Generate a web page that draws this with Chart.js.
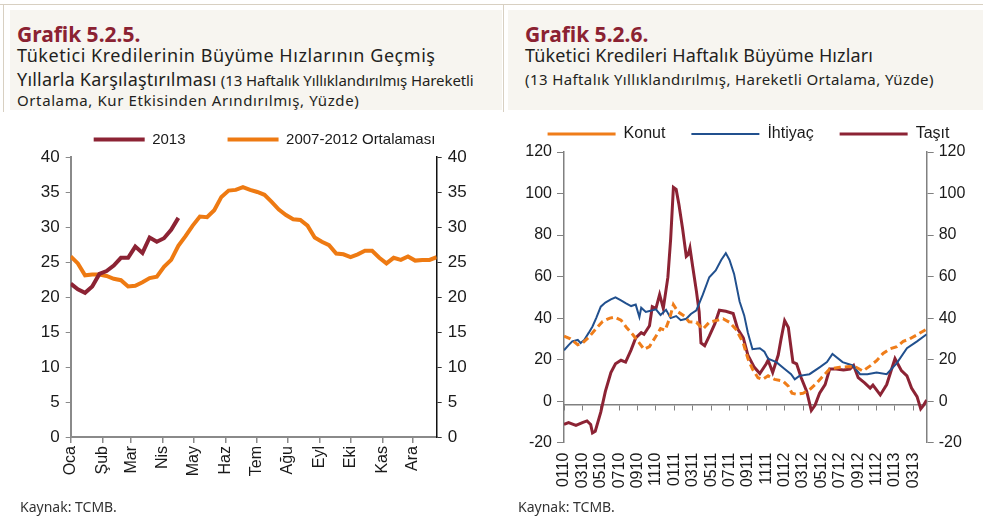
<!DOCTYPE html>
<html lang="tr">
<head>
<meta charset="utf-8">
<script src="https://cdn.jsdelivr.net/npm/chart.js@4.4.1/dist/chart.umd.min.js"></script>
<style>
  body { margin:0; width:983px; height:518px; background:#fff; position:relative; overflow:hidden; font-family:"Noto Sans", sans-serif; color:#231f20; }
  .rule-top { position:absolute; left:0; top:4px; width:983px; height:1px; background:#d8d0c2; }
  .rule-left { position:absolute; left:3px; top:4px; width:1px; height:108px; background:#d8d0c2; }
  .rule-mid { position:absolute; left:503px; top:4px; width:1px; height:108px; background:#d8d0c2; }
  .head { position:absolute; top:10px; height:100px; background:#f7f5f0; }
  .t { position:absolute; white-space:nowrap; line-height:20px; }
  .num { font-weight:700; font-size:21px; color:#8b2232; }
  .big { font-size:18px; }
  .small { font-size:15px; }
  .src { position:absolute; font-size:14px; color:#333; white-space:nowrap; line-height:14px; }
  canvas { position:absolute; }
</style>
</head>
<body>
<div class="rule-top"></div>
<div class="rule-left"></div>
<div class="rule-mid"></div>
<div class="head" style="left:10px;width:492px"></div>
<div class="head" style="left:508px;width:475px"></div>

<div class="t num" style="left:17px;top:24px">Grafik 5.2.5.</div>
<div class="t big" style="left:17px;top:45px;letter-spacing:0.55px">Tüketici Kredilerinin Büyüme Hızlarının Geçmiş</div>
<div class="t" style="left:17px;top:69px"><span class="big" style="letter-spacing:0.2px">Yıllarla Karşılaştırılması</span> <span class="small" style="letter-spacing:-0.1px">(13 Haftalık Yıllıklandırılmış Hareketli</span></div>
<div class="t small" style="left:17px;top:90px;letter-spacing:0.6px">Ortalama, Kur Etkisinden Arındırılmış, Yüzde)</div>

<div class="t num" style="left:525px;top:24px">Grafik 5.2.6.</div>
<div class="t big" style="left:525px;top:45px;letter-spacing:0.13px">Tüketici Kredileri Haftalık Büyüme Hızları</div>
<div class="t small" style="left:525px;top:69px;letter-spacing:0.4px">(13 Haftalık Yıllıklandırılmış, Hareketli Ortalama, Yüzde)</div>

<canvas id="leftChart" width="489" height="420" style="left:20px;top:90px"></canvas>
<canvas id="rightChart" width="481" height="418" style="left:508px;top:100px"></canvas>

<div class="src" style="left:20px;top:500px">Kaynak: TCMB.</div>
<div class="src" style="left:518px;top:500px">Kaynak: TCMB.</div>

<script>
// Grafik 5.2.5 - weekly index 0..51, month ticks at day-of-year / 7
const monthNames = ['Oca','Şub','Mar','Nis','May','Haz','Tem','Ağu','Eyl','Eki','Kas','Ara'];
const monthTickWeeks = [0, 4.43, 8.43, 12.86, 17.14, 21.57, 25.86, 30.29, 34.71, 39, 43.43, 47.71];
const growth2013 = [21.9, 21.1, 20.6, 21.5, 23.3, 23.7, 24.5, 25.6, 25.6, 27.2, 26.3, 28.5, 27.9, 28.4, 29.6, 31.3];
const avg2007to2012 = [25.8, 24.8, 23.1, 23.2, 23.2, 23.0, 22.6, 22.4, 21.5, 21.6, 22.1, 22.7, 22.9, 24.3, 25.3, 27.3,
  28.7, 30.2, 31.5, 31.4, 32.4, 34.3, 35.2, 35.3, 35.7, 35.3, 35.0, 34.6, 33.6, 32.5, 31.7, 31.1,
  31.0, 30.2, 28.5, 27.9, 27.4, 26.2, 26.1, 25.7, 26.1, 26.6, 26.6, 25.6, 24.8, 25.6, 25.3, 25.8,
  25.2, 25.3, 25.3, 25.7];

// Grafik 5.2.6 - x in months since Jan 2010
const periodTicks = [0, 2, 4, 6, 8, 10, 12, 14, 16, 18, 20, 22, 24, 26, 28, 30, 32, 34, 36, 38];
const periodLabels = ['0110','0310','0510','0710','0910','1110','0111','0311','0511','0711','0911','1111',
  '0112','0312','0512','0712','0912','1112','0113','0313'];

const konutX = [0, 0.7, 1.5, 2, 2.7, 3.5, 4.2, 5, 5.5, 6.2, 6.8, 7.5, 8.2, 8.7, 9.3, 10, 10.5, 11, 11.5, 11.9,
  12.4, 13.1, 13.6, 14.4, 15.1, 15.8, 16.5, 17.3, 18, 18.7, 19.5, 20, 20.5, 21.1, 21.6, 22.2, 22.9, 23.8,
  24.4, 24.8, 25.3, 26, 26.7, 27.5, 28.2, 28.9, 30, 31.1, 31.8, 32.5, 33.3, 34, 34.7, 35.5, 36.2, 36.9,
  37.6, 38.4, 39.1, 39.45];
const konutY = [31.3, 30, 27.2, 28, 30.8, 35, 38.4, 40, 40.5, 39, 35.5, 32, 28, 25, 26.3, 31.3, 35, 34.2, 40, 46.5,
  43, 41, 38.2, 38, 34.7, 38, 38.8, 39.7, 38, 34.7, 28, 20.5, 15.5, 11.3, 10.5, 12.2, 10.5, 9.7,
  7.2, 3.8, 3.3, 3.8, 5.5, 8.8, 12.2, 15.5, 16.3, 16.7, 16.3, 14.5, 17, 19.5, 23, 25.3, 26.3, 28.8,
  30, 32, 33.8, 34.7];

const ihtiyacX = [0, 0.5, 0.9, 1.5, 1.8, 2.2, 2.7, 3.1, 3.5, 4, 4.5, 5.1, 5.6, 6.2, 6.7, 7.3, 7.8, 8.2, 8.4, 8.9,
  9.4, 10, 10.5, 11.1, 11.6, 12.2, 12.7, 13.3, 13.8, 14.4, 15.1, 15.8, 16.5, 17.1, 17.6, 18, 18.5, 19.1,
  19.6, 20, 20.5, 21.3, 21.8, 22.2, 23.1, 24, 24.7, 25.1, 25.6, 26.7, 27.8, 28.6, 29.2, 30.3, 31.4,
  32.2, 33, 34, 35.1, 36.2, 37.3, 38.4, 39.45];
const ihtiyacY = [24.5, 27, 28.8, 29.5, 28, 29.5, 33, 36, 40, 45.5, 47.5, 49, 50, 48.5, 47.2, 45.8, 46.5, 40.5, 45, 43,
  43.5, 44.2, 41.5, 44, 40, 41, 39, 39.7, 42, 43.8, 51.3, 59.7, 63, 68, 71.3, 68, 61.3, 48,
  41.3, 33, 25, 25.5, 23.8, 20.5, 18.8, 15.5, 13, 10.5, 12.2, 13, 16.3, 18.8, 22.7, 18.8, 17.2,
  13, 13, 13.8, 13, 18.3, 25.5, 28.8, 32.2];

const tasitX = [0, 0.5, 1.3, 2, 2.5, 2.9, 3.1, 3.4, 4, 4.5, 5.1, 5.6, 6.2, 6.7, 7.3, 7.8, 8.4, 8.7, 9.3, 9.6,
  10, 10.4, 10.8, 11.3, 11.6, 11.9, 12.2, 12.5, 12.9, 13.3, 13.5, 13.7, 14, 14.4, 14.7, 14.9, 15.3,
  15.8, 16.4, 16.9, 17.6, 18.4, 18.9, 19.5, 20, 20.7, 21.3, 22, 22.2, 22.7, 23.3, 23.6, 24, 24.4,
  24.9, 25.3, 25.8, 26.4, 26.9, 27.3, 27.8, 28.4, 28.9, 29.6, 30.4, 31.1, 31.5, 32, 32.7, 33.3,
  33.6, 34.4, 35.1, 36, 36.7, 37.3, 37.8, 38.4, 38.8, 39.1, 39.45];
const tasitY = [-11.2, -10.3, -11.7, -10.3, -9.5, -11.2, -15.3, -14.5, -5.3, 4.7, 13.8, 18, 19.7, 18.8, 24.7, 30.5, 33, 32.2, 36.3, 45.5,
  44.7, 51.3, 44.7, 59.7, 78, 103, 102, 94.7, 83, 69.7, 70.5, 73.8, 64.7, 53, 43, 28, 26.7,
  31.3, 37.2, 43.8, 43.3, 42.2, 34.7, 30.5, 22.2, 16.3, 13.3, 18, 19.7, 13.8, 22.2, 29.7, 38.8, 35.5,
  18.8, 18, 11.3, 4.7, -4.5, -2, 3.8, 8, 15.5, 15.5, 15, 15.5, 17.2, 11.3, 8.8, 6.3,
  7.7, 3, 8, 20.5, 14.7, 12.2, 6.3, 2.2, -3.7, -2, 0.5];

const axisFont = { family: '"Liberation Sans", Arial, sans-serif', size: 17 };
const axisFontSm = { family: '"Liberation Sans", Arial, sans-serif', size: 16 };
const textColor = '#1a1a1a';
const zip = (xs, ys) => ys.map((y, i) => ({ x: xs[i], y: y }));

new Chart(document.getElementById('leftChart'), {
  type: 'line',
  data: {
    datasets: [
      { label: '2013', data: growth2013.map((v, i) => ({ x: i, y: v })), borderColor: '#8c2334', borderWidth: 4,
        pointRadius: 0, pointStyle: 'line', tension: 0 },
      { label: '2007-2012 Ortalaması', data: avg2007to2012.map((v, i) => ({ x: i, y: v })), borderColor: '#ee7a12',
        borderWidth: 4, pointRadius: 0, pointStyle: 'line', tension: 0 }
    ]
  },
  options: {
    responsive: false, animation: false,
    layout: { padding: 0 },
    plugins: {
      tooltip: { enabled: false },
      legend: {
        maxHeight: 73,
        labels: { usePointStyle: true, pointStyle: 'line', pointStyleWidth: 51, padding: 42, color: textColor,
          font: { family: axisFont.family, size: 15 } }
      }
    },
    scales: {
      x: {
        type: 'linear', min: 0, max: 51,
        afterBuildTicks: s => { s.ticks = monthTickWeeks.map(v => ({ value: v })); },
        afterFit: s => { s.height = 73; },
        ticks: { callback: (v, i) => monthNames[i], autoSkip: false, minRotation: 90, maxRotation: 90,
          color: textColor, font: { family: axisFont.family, size: 16 }, padding: 3 },
        grid: { drawOnChartArea: false, tickLength: 6, color: '#8a8a8a', lineWidth: 1.5 },
        border: { color: '#8a8a8a', width: 2 }
      },
      y: {
        min: 0, max: 40,
        afterFit: s => { s.width = 50.7; },
        ticks: { stepSize: 5, color: textColor, font: axisFont, padding: 6 },
        grid: { drawOnChartArea: false, tickLength: 5, color: '#8a8a8a' },
        border: { color: '#8a8a8a', width: 2 }
      },
      y2: {
        position: 'right', min: 0, max: 40,
        afterFit: s => { s.width = 72.3; },
        ticks: { stepSize: 5, color: textColor, font: axisFont, padding: 6 },
        grid: { drawOnChartArea: false, tickLength: 5, color: '#333' },
        border: { color: '#111', width: 1.5 }
      }
    }
  }
});

new Chart(document.getElementById('rightChart'), {
  type: 'line',
  data: {
    datasets: [
      { label: 'Konut', data: zip(konutX, konutY), borderColor: '#ef7d1a', borderWidth: 3, borderDash: [7, 4],
        pointRadius: 0, pointStyle: 'line', tension: 0 },
      { label: 'İhtiyaç', data: zip(ihtiyacX, ihtiyacY), borderColor: '#21508e', borderWidth: 2,
        pointRadius: 0, pointStyle: 'line', tension: 0 },
      { label: 'Taşıt', data: zip(tasitX, tasitY), borderColor: '#8c2334', borderWidth: 3,
        pointRadius: 0, pointStyle: 'line', tension: 0 }
    ]
  },
  options: {
    responsive: false, animation: false,
    layout: { padding: 0 },
    plugins: {
      tooltip: { enabled: false },
      legend: {
        maxHeight: 62.7,
        labels: { usePointStyle: true, pointStyle: 'line', pointStyleWidth: 68, padding: 26, color: textColor,
          font: axisFontSm }
      }
    },
    scales: {
      x: {
        type: 'linear', min: 0, max: 39.45,
        afterBuildTicks: s => { s.ticks = periodTicks.map(v => ({ value: v })); },
        afterFit: s => { s.height = 75.3; },
        ticks: { callback: (v, i) => periodLabels[i], autoSkip: false, minRotation: 90, maxRotation: 90,
          color: textColor, font: axisFontSm, padding: 10 },
        grid: { display: false, drawTicks: false },
        border: { display: false }
      },
      x0: {
        type: 'linear', min: 0, max: 39.45, position: { y: -1.8 },
        afterBuildTicks: s => { s.ticks = periodTicks.map(v => ({ value: v })); },
        ticks: { display: false },
        grid: { drawOnChartArea: false, tickLength: 5, color: '#808080' },
        border: { color: '#808080', width: 1.5 }
      },
      y: {
        min: -20, max: 120,
        afterFit: s => { s.width = 56; },
        ticks: { stepSize: 20, color: textColor, font: axisFontSm, padding: 5 },
        grid: { drawOnChartArea: false, tickLength: 7, color: '#808080' },
        border: { color: '#808080', width: 1.5 }
      },
      y2: {
        position: 'right', min: -20, max: 120,
        afterFit: s => { s.width = 62.3; },
        ticks: { stepSize: 20, color: textColor, font: axisFontSm, padding: 5 },
        grid: { drawOnChartArea: false, tickLength: 7, color: '#808080' },
        border: { color: '#808080', width: 1.5 }
      }
    }
  }
});
</script>
</body>
</html>
